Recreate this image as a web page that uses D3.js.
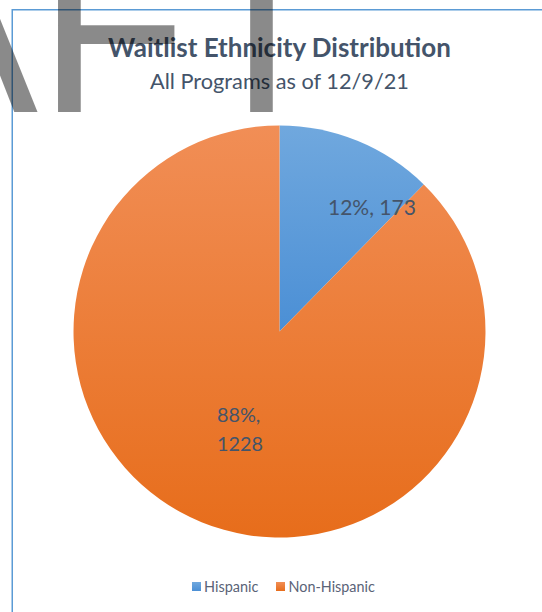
<!DOCTYPE html>
<html>
<head>
<meta charset="utf-8">
<script src="https://cdn.jsdelivr.net/npm/d3@7/dist/d3.min.js"></script>
<style>
  html, body { margin: 0; padding: 0; background: #fff; }
  svg { display: block; }
</style>
</head>
<body>
<svg id="chart" width="542" height="612"></svg>
<script>
// ---- data ----
const categories = ["Hispanic", "Non-Hispanic"];
const values = [173, 1228];
const percentLabels = ["12%", "88%"];
const titleText = "Waitlist Ethnicity Distribution";
const subtitleText = "All Programs as of 12/9/21";
const watermarkText = "DRAFT";

// ---- layout / style ----
const W = 542, H = 612;
const cx = 279.5, cy = 331.5, R = 206;
const FONT = "Lato, 'Open Sans', 'Noto Sans', sans-serif";
const textColor = "#44546a";
const legendColor = "#5a6377";
const gradStops = {
  "Hispanic": ["#70a8de", "#4b8fd5"],
  "Non-Hispanic": ["#f18e56", "#e76d1b"]
};

const svg = d3.select("#chart");
const defs = svg.append("defs");

categories.forEach((c, i) => {
  const g = defs.append("linearGradient")
    .attr("id", "grad" + i)
    .attr("x1", 0).attr("y1", 0).attr("x2", 0).attr("y2", 1);
  g.append("stop").attr("offset", "0%").attr("stop-color", gradStops[c][0]);
  g.append("stop").attr("offset", "100%").attr("stop-color", gradStops[c][1]);
});

function fit(sel, target, base) {
  sel.attr("font-size", base);
  const w = sel.node().getComputedTextLength();
  sel.attr("font-size", base * target / w);
  return sel;
}

// border
svg.append("rect")
  .attr("x", 12.25).attr("y", 9.75)
  .attr("width", 700).attr("height", 800)
  .attr("fill", "none")
  .attr("stroke", "#5b9bd5")
  .attr("stroke-width", 1.5);

// title
const title = svg.append("text")
  .attr("x", cx).attr("y", 57)
  .attr("text-anchor", "middle")
  .attr("font-family", FONT)
  .attr("font-weight", "bold")
  .attr("fill", textColor)
  .text(titleText);
fit(title, 343, 24);

const sub = svg.append("text")
  .attr("x", cx).attr("y", 89)
  .attr("text-anchor", "middle")
  .attr("font-family", FONT)
  .attr("fill", textColor)
  .text(subtitleText);
fit(sub, 259, 20);

// pie
const pie = d3.pie().sort(null).value(d => d.value);
const data = categories.map((c, i) => ({ name: c, value: values[i], pct: percentLabels[i], idx: i }));
const arcs = pie(data);
const arc = d3.arc().innerRadius(0).outerRadius(R);

const g = svg.append("g").attr("transform", `translate(${cx},${cy})`);
g.selectAll("path.slice")
  .data(arcs)
  .join("path")
  .attr("class", "slice")
  .attr("d", arc)
  .attr("fill", d => `url(#grad${d.data.idx})`);

// labels (placement mimics Excel best-fit)
const labelPlacement = [
  { angleShift: 14.4, r: 155, lines: d => [`${d.data.pct}, ${d.data.value}`], anchor: "middle" },
  { angleShift: -0.3, r: 106, lines: d => [`${d.data.pct},`, `${d.data.value}`], anchor: "start" }
];
arcs.forEach((d, i) => {
  const p = labelPlacement[i];
  const mid = (d.startAngle + d.endAngle) / 2 + p.angleShift * Math.PI / 180;
  const x = Math.sin(mid) * p.r, y = -Math.cos(mid) * p.r;
  const lines = p.lines(d);
  const lh = 29;
  const t = g.append("text")
    .attr("font-family", FONT)
    .attr("fill", textColor)
    .attr("font-size", 21);
  if (lines.length === 1) {
    t.attr("x", x).attr("y", y + 8).attr("text-anchor", "middle").text(lines[0]);
    fit(t, 88, 21);
  } else {
    const left = x - 23;
    lines.forEach((ln, k) => {
      t.append("tspan").attr("x", left).attr("y", y - 8 + k * lh).text(ln);
    });
    // size from width of value line
    const probe = g.append("text").attr("font-family", FONT).attr("font-size", 21).text(lines[1]);
    const w = probe.node().getComputedTextLength();
    probe.remove();
    t.attr("font-size", 21 * 46 / w);
  }
});

// legend
const legendItems = [
  { name: categories[0], sq: 192, tx: 204, w: 54.5 },
  { name: categories[1], sq: 276, tx: 288.5, w: 86.5 }
];
legendItems.forEach((it, i) => {
  svg.append("rect")
    .attr("x", it.sq).attr("y", 582)
    .attr("width", 9).attr("height", 9)
    .attr("fill", `url(#grad${i})`);
  const t = svg.append("text")
    .attr("x", it.tx).attr("y", 592)
    .attr("font-family", FONT)
    .attr("fill", legendColor)
    .text(it.name);
  fit(t, it.w, 15);
});

// watermark
svg.append("text")
  .attr("x", 336).attr("y", 112)
  .attr("text-anchor", "end")
  .attr("font-family", "'Liberation Sans', Arial, sans-serif")
  .attr("font-size", 244)
  .style("font-kerning", "none")
  .attr("fill", "#000")
  .attr("fill-opacity", 0.46)
  .text(watermarkText);
</script>
</body>
</html>
